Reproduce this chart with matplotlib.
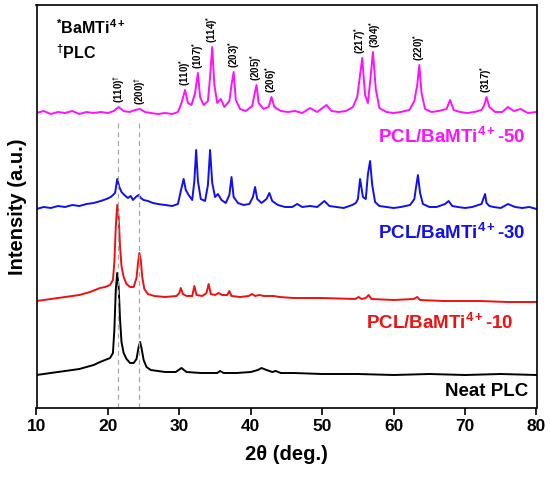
import numpy as np
import matplotlib
matplotlib.use("Agg")
import matplotlib.pyplot as plt

plt.rcParams['font.family'] = ['Liberation Sans', 'DejaVu Sans']
plt.rcParams['font.weight'] = 'bold'
plt.rcParams['axes.labelweight'] = 'bold'
plt.rcParams['mathtext.fontset'] = 'custom'
plt.rcParams['mathtext.rm'] = 'Liberation Sans:bold'
plt.rcParams['mathtext.bf'] = 'Liberation Sans:bold'
plt.rcParams['mathtext.it'] = 'Liberation Sans:bold'
plt.rcParams['mathtext.default'] = 'bf'

# XRD patterns (2theta in deg, intensity in a.u. above each baseline)
tt_neat = [10, 12, 14, 15, 16, 17, 18, 18.9, 19.6, 20.3, 20.7, 20.9, 21.1, 21.3, 21.5, 21.7, 21.9, 22.2,
           22.6, 23.1, 23.6, 24.0, 24.3, 24.5, 24.7, 25.0, 25.4, 26.0, 27, 28, 29.5, 30.3, 31, 33, 35.3,
           35.7, 36.2, 38, 40, 41, 41.5, 42.2, 43, 43.5, 44.2, 46, 50, 55, 60, 65, 70, 75, 80]
I_neat = [0, 2, 4, 5, 6, 8, 10, 13, 15, 17, 22, 45, 85, 102, 88, 55, 33, 22,
          16, 12, 12, 16, 28, 33, 27, 15, 8, 5, 4, 3, 3, 7, 3, 2, 2,
          4, 2, 2, 3, 5, 7, 5, 3, 4, 2, 2, 1, 1, 0, 1, 0, 1, 0]

tt_10 = [10, 12, 14, 16, 17.5, 18.9, 19.6, 20.3, 20.7, 20.9, 21.1, 21.3, 21.5, 21.7, 21.9, 22.2, 22.6,
         23.1, 23.6, 24.0, 24.2, 24.4, 24.6, 24.8, 25.1, 25.6, 26.5, 28, 29.6, 30.0, 30.2, 30.5, 31.0,
         31.8, 32.1, 32.4, 33.2, 33.8, 34.1, 34.4, 35.0, 35.5, 36.0, 36.7, 37.0, 37.3, 38.5, 39.7, 40.2,
         40.6, 41.2, 41.8, 42.4, 43.2, 44.0, 46, 50, 54.6, 55.1, 55.5, 56.1, 56.5, 56.9, 60, 62.8, 63.3,
         63.7, 67, 72, 76, 80]
I_10 = [1, 3, 5, 7, 10, 14, 15, 17, 22, 40, 75, 97, 85, 55, 36, 25, 18,
        15, 15, 24, 38, 49, 42, 25, 13, 8, 6, 5, 6, 9, 14, 8, 6,
        6, 16, 7, 6, 9, 18, 8, 7, 9, 7, 7, 11, 6, 5, 6, 8,
        6, 7, 6, 6, 6, 5, 4, 4, 3, 5, 3, 4, 7, 3, 2, 3, 5,
        2, 1, 1, 0, 0]

tt_30 = [10, 11, 12, 13, 14, 15, 16, 17, 18, 19, 19.8, 20.4, 21.0, 21.3, 21.6, 21.9, 22.3, 22.8, 23.2,
         23.5, 23.9, 24.3, 24.6, 25.0, 25.6, 26.3, 27, 28, 29, 29.8, 30.2, 30.6, 30.9, 31.3, 31.8, 32.1,
         32.35, 32.6, 33.0, 33.6, 34.0, 34.3, 34.6, 35.0, 35.4, 35.9, 36.5, 37.0, 37.3, 37.6, 38.2, 39.0,
         39.8, 40.3, 40.6, 40.9, 41.5, 42.2, 42.6, 43.0, 43.8, 44.8, 45.8, 46.5, 47.2, 48.3, 49.3, 50.3,
         51.0, 52, 53, 54.2, 54.7, 55.0, 55.3, 55.7, 56.1, 56.4, 56.7, 57.0, 57.4, 58, 59, 60, 61, 62.3,
         62.9, 63.1, 63.4, 63.7, 64.1, 65, 66, 67.2, 67.7, 68.2, 69, 70, 71, 72.3, 72.8, 73.0, 73.4, 74,
         75, 76.0, 77, 78, 79, 80]
I_30 = [0, 2, 1, 3, 2, 4, 3, 5, 6, 8, 10, 12, 16, 30, 22, 17, 14, 11, 13,
        9, 12, 14, 11, 9, 8, 6, 5, 4, 3, 5, 18, 30, 19, 14, 9, 28,
        59, 28, 10, 8, 24, 59, 26, 12, 15, 9, 6, 14, 32, 12, 6, 4,
        5, 12, 22, 10, 6, 10, 16, 8, 4, 2, 2, 5, 2, 3, 2, 8,
        3, 2, 1, 4, 6, 10, 30, 12, 10, 35, 48, 24, 7, 3, 2, 1, 2, 4,
        10, 20, 34, 16, 5, 2, 2, 5, 8, 3, 2, 1, 2, 5, 15, 6, 3, 2,
        1, 5, 2, 1, 2, 0]

tt_50 = [10, 11, 12, 13, 14, 15, 16, 17, 18, 19, 20, 20.8, 21.5, 22.2, 23, 23.8, 24.5, 25.2, 26, 27,
         28, 29, 29.8, 30.3, 30.8, 31.2, 31.7, 32.2, 32.6, 32.9, 33.4, 34.0, 34.3, 34.6, 34.9, 35.3, 35.8,
         36.3, 37.0, 37.3, 37.6, 37.9, 38.5, 39.3, 40.2, 40.5, 40.8, 41.1, 41.8, 42.5, 42.9, 43.3, 44.2,
         45.2, 46.2, 47.2, 48.3, 49.3, 50.6, 51.3, 52.3, 53.3, 54.3, 54.9, 55.3, 55.6, 56.0, 56.4, 56.8,
         57.1, 57.5, 58, 59, 60, 61, 62.2, 62.9, 63.3, 63.6, 63.9, 64.4, 65.3, 66.3, 67.4, 67.9, 68.4,
         69.3, 70.3, 71.3, 72.3, 72.7, 73.0, 73.4, 74.2, 75.2, 76.0, 76.8, 77.8, 78.8, 80]
I_50 = [2, 4, 1, 3, 2, 4, 1, 3, 2, 3, 2, 4, 8, 4, 3, 5, 6, 3, 2, 1,
        2, 1, 3, 12, 25, 12, 10, 22, 42, 18, 10, 14, 38, 68, 30, 12, 16,
        8, 14, 30, 43, 15, 6, 4, 9, 20, 30, 12, 6, 8, 18, 8, 4,
        3, 4, 2, 7, 3, 10, 4, 3, 4, 8, 18, 40, 57, 20, 12, 40,
        63, 26, 7, 3, 2, 3, 5, 14, 30, 50, 22, 6, 3, 4, 6, 15, 5,
        3, 2, 3, 5, 10, 18, 8, 3, 3, 8, 4, 6, 2, 3]

names = ["Neat PLC", "PCL/BaMTi$^{4+}$-10", "PCL/BaMTi$^{4+}$-30", "PCL/BaMTi$^{4+}$-50"]
colors = ["black", "#f01010", "#1010f0", "#ff10ff"]
offsets = [33, 106, 199, 293]

# reflections marked on the top pattern
hkl_pos = [21.5, 24.5, 30.8, 32.6, 34.6, 37.6, 40.8, 42.9, 55.3, 57.4, 63.6, 73.0]
hkl_lab = ["(110)$^{\\dagger}$", "(200)$^{\\dagger}$", "(110)$^{*}$", "(107)$^{*}$", "(114)$^{*}$",
           "(203)$^{*}$", "(205)$^{*}$", "(206)$^{*}$", "(217)$^{*}$", "(304)$^{*}$", "(220)$^{*}$",
           "(317)$^{*}$"]
plc_peaks = [21.35, 24.4]

fig = plt.figure(figsize=(5.5, 4.78), dpi=100)
ax = fig.add_axes([36.5 / 550, 70 / 478, 500 / 550, 403 / 478])

series = [(tt_neat, I_neat), (tt_10, I_10), (tt_30, I_30), (tt_50, I_50)]
for (tt, I), off, c in zip(series, offsets, colors):
    ax.plot(tt, np.array(I) + off, color=c, lw=1.4)

ax.vlines(plc_peaks, 0, 285, colors="#a8a8a8", linestyles=(0, (4, 3)), lw=0.9)

tt50 = np.array(tt_50)
I50 = np.array(I_50)
for x, lab in zip(hkl_pos, hkl_lab):
    near = np.abs(tt50 - x) <= 0.5
    y = offsets[3] + I50[near].max() + 4
    ax.text(x, y, lab, rotation=90, ha="center", va="bottom", fontsize=7)

# curve names
ax.text(78.8, 16, names[0], color=colors[0], ha="right", va="center", fontsize=13.5)
ax.text(76.8, 85, names[1], color=colors[1], ha="right", va="center", fontsize=13.5)
ax.text(78.4, 175, names[2], color=colors[2], ha="right", va="center", fontsize=13.5)
ax.text(78.4, 271, names[3], color=colors[3], ha="right", va="center", fontsize=13.5)

ax.text(0.038, 0.945, "$^{*}$BaMTi$^{4+}$", transform=ax.transAxes, ha="left", va="center", fontsize=11.5)
ax.text(0.038, 0.883, "$^{\\dagger}$PLC", transform=ax.transAxes, ha="left", va="center", fontsize=11.5)

ax.set_xlim(10, 80)
ax.set_ylim(0, 403)
ax.set_xticks(range(10, 81, 10))
ax.set_yticks([])
ax.tick_params(axis="x", direction="out", length=5, width=1.2, labelsize=12.5, pad=3)
for lbl in ax.get_xticklabels():
    lbl.set_fontweight("bold")
for s in ax.spines.values():
    s.set_linewidth(1.2)

ax.set_xlabel("2θ (deg.)", fontsize=14.5, fontweight="bold", labelpad=8)
ax.set_ylabel("Intensity (a.u.)", fontsize=14.5, fontweight="bold", labelpad=7)

fig.savefig("out.png", dpi=100)
